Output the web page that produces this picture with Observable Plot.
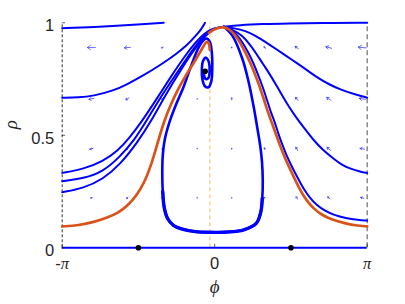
<!DOCTYPE html>
<html><head><meta charset="utf-8">
<script src="https://cdn.jsdelivr.net/npm/d3@7"></script>
<script src="https://cdn.jsdelivr.net/npm/@observablehq/plot@0.6"></script>
<style>body{margin:0;background:#fff}#chart{width:405px;height:304px}</style>
</head><body><div id="chart"></div>
<script>
// ---------- data ----------
const phiLim = [-3.1416, 3.1416];
const rhoLim = [0, 1];
const xTicks = [-3.1416, 0, 3.1416];
const xTickLabels = ["-π", "0", "π"];
const yTicks = [0, 0.5, 1];
const yTickLabels = ["0", "0.5", "1"];
const xLabel = "ϕ";
const yLabel = "ρ";
const guidePhi = [-0.1];

const fixedPhi = [-1.571, -0.196, 1.571];
const fixedRho = [0, 0.785, 0];

const quiverPhi = [-2.54, -1.80, -1.08, -0.36, 0.35, 1.03, 1.69, 2.35, 3.04];
const quiverRho = [0.89, 0.662, 0.44, 0.222];
const quiverLen = [
  [8, 6, 2, 0.5, 1, 2, 4, 6, 8],
  [5, 4, 1.5, 0.5, 2, 1, 4, 5, 6],
  [3.5, 2, 1.5, 0.5, 1, 2, 4, 4.5, 4.5],
  [2, 2, 1, 0.5, 0.5, 1, 3, 3, 3.5]
];
const quiverRot = [
  [-90, -95, -120, 0, 0, -35, -55, -75, -85],
  [-100, -120, -130, 0, 0, -20, -40, -55, -80],
  [-105, -130, -150, 0, 0, -10, -30, -50, -80],
  [-115, -140, -160, 0, 0, -10, -30, -45, -75]
];

const topLeft = [[-3.1416,0.976],[-2.6,0.98],[-2.0,0.987],[-1.5,0.994],[-1.05,1.0]];
const topRight = [[0.19,0.982],[0.5,0.99],[1.0,0.995],[1.5,0.997],[2.2,0.999],[3.1416,1.0]];
const left1 = [[-3.1416,0.667],[-2.8,0.668],[-2.5,0.675],[-2.1,0.697],[-1.8,0.727],[-1.5,0.762],[-1.1,0.815],[-0.8,0.86],[-0.57,0.9],[-0.4,0.94],[-0.28,0.97],[-0.2,1.0]];
const leftA = [[-3.1416,0.333],[-2.7,0.35],[-2.3,0.385],[-2.0,0.43],[-1.75,0.49],[-1.5,0.562],[-1.2,0.66],[-0.9,0.762],[-0.6,0.857],[-0.4,0.912],[-0.22,0.952],[-0.05,0.975],[0.19,0.982]];
const leftB = [[-3.1416,0.296],[-2.7,0.308],[-2.3,0.338],[-1.95,0.405],[-1.65,0.48],[-1.4,0.566],[-1.1,0.675],[-0.8,0.77],[-0.55,0.85],[-0.35,0.91],[-0.18,0.952],[-0.03,0.975],[0.19,0.982]];
const leftC = [[-3.1416,0.247],[-2.7,0.265],[-2.3,0.305],[-1.95,0.37],[-1.6,0.465],[-1.3,0.566],[-1.0,0.685],[-0.7,0.79],[-0.45,0.872],[-0.28,0.922],[-0.13,0.955],[0.0,0.975],[0.19,0.982]];
const right1 = [[0.19,0.982],[0.4,0.976],[0.63,0.965],[0.85,0.942],[1.05,0.914],[1.29,0.88],[1.46,0.855],[1.7,0.82],[1.9,0.79],[2.11,0.757],[2.35,0.727],[2.59,0.703],[2.85,0.684],[3.1416,0.667]];
const right2 = [[0.19,0.982],[0.38,0.968],[0.57,0.944],[0.72,0.905],[0.84,0.869],[1.0,0.815],[1.11,0.78],[1.25,0.73],[1.39,0.677],[1.52,0.63],[1.66,0.585],[1.85,0.53],[2.04,0.477],[2.25,0.43],[2.45,0.396],[2.62,0.368],[2.8,0.351],[3.0,0.338],[3.1416,0.333]];
const right3 = [[0.19,0.982],[0.32,0.975],[0.47,0.944],[0.58,0.91],[0.69,0.869],[0.8,0.82],[0.9,0.766],[0.99,0.715],[1.07,0.662],[1.16,0.6],[1.24,0.558],[1.31,0.507],[1.39,0.46],[1.48,0.41],[1.58,0.365],[1.69,0.318],[1.83,0.262],[1.96,0.222],[2.1,0.19],[2.26,0.165],[2.46,0.145],[2.7,0.132],[2.95,0.124],[3.1416,0.121]];
const loop = [[0.19,0.982],[0.36,0.944],[0.57,0.84],[0.70,0.736],[0.8,0.63],[0.88,0.53],[0.94,0.45],[0.975,0.38],[0.99,0.3],[0.98,0.22],[0.95,0.16],[0.86,0.11],[0.6,0.08],[0.25,0.07],[-0.09,0.069],[-0.4,0.072],[-0.65,0.082],[-0.85,0.1],[-0.97,0.13],[-1.04,0.18],[-1.07,0.25],[-1.08,0.33],[-1.07,0.41],[-1.03,0.48],[-0.93,0.56],[-0.8,0.635],[-0.65,0.71],[-0.5,0.8],[-0.36,0.877],[-0.26,0.915],[-0.17,0.93],[-0.1,0.915],[-0.06,0.87],[-0.05,0.8],[-0.07,0.74],[-0.13,0.713],[-0.2,0.718],[-0.25,0.745],[-0.265,0.79],[-0.24,0.83],[-0.18,0.845],[-0.12,0.825],[-0.105,0.785],[-0.13,0.755],[-0.18,0.75],[-0.22,0.77],[-0.2,0.785]];
const loopBottom = [[-1.07,0.25],[-1.04,0.18],[-0.97,0.13],[-0.85,0.1],[-0.65,0.082],[-0.4,0.072],[-0.09,0.069],[0.25,0.07],[0.6,0.08],[0.86,0.11],[0.95,0.16],[0.98,0.22]];
const orangeLeft = [[-3.1416,0.095],[-2.8,0.1],[-2.49,0.114],[-2.2,0.135],[-2.01,0.153],[-1.8,0.185],[-1.6,0.235],[-1.45,0.29],[-1.32,0.36],[-1.19,0.455],[-1.05,0.56],[-0.9,0.64],[-0.76,0.703],[-0.6,0.765],[-0.43,0.822],[-0.3,0.87],[-0.21,0.905],[-0.15,0.92],[-0.11,0.905],[-0.1,0.88]];
const orangeRight = [[-0.12,0.955],[-0.05,0.966],[0.05,0.977],[0.19,0.982],[0.3,0.972],[0.43,0.944],[0.53,0.91],[0.63,0.869],[0.74,0.82],[0.84,0.766],[0.93,0.715],[1.01,0.662],[1.1,0.6],[1.18,0.555],[1.26,0.505],[1.34,0.458],[1.43,0.408],[1.53,0.36],[1.64,0.31],[1.77,0.252],[1.9,0.208],[2.04,0.174],[2.2,0.147],[2.4,0.126],[2.66,0.11],[2.9,0.099],[3.1416,0.095]];

// ---------- styling ----------
const BLUE = "#0000ff", ORANGE = "#d95319", INK = "#262626";
const sans = "Liberation Sans, Arial, Helvetica, sans-serif";
const serif = "Liberation Serif, Times New Roman, serif";

const quiver = [];
quiverRho.forEach((r, i) => quiverPhi.forEach((p, j) =>
  quiver.push({phi: p, rho: r, len: quiverLen[i][j], rot: quiverRot[i][j]})));

const arrowShape = {
  draw(context, l) {
    context.moveTo(0, 0);
    context.lineTo(0, -l);
    const h = Math.min(l * 0.4, 3);
    context.moveTo(-h * 0.7, -l + h);
    context.lineTo(0, -l);
    context.lineTo(h * 0.7, -l + h);
  }
};

const line = (pts, stroke, sw, curve = "basis") => Plot.line(pts, {x: d => d[0], y: d => d[1], stroke, strokeWidth: sw, curve, strokeLinejoin: "round", strokeLinecap: "round"});

const chart = Plot.plot({
  width: 405, height: 304,
  marginLeft: 61.7, marginRight: 38.3, marginTop: 22.3, marginBottom: 56.7,
  x: {domain: phiLim, axis: null},
  y: {domain: rhoLim, axis: null},
  length: {type: "identity"},
  style: {background: "white", fontFamily: sans, overflow: "visible"},
  marks: [
    Plot.ruleX(guidePhi, {y1: rhoLim[0], y2: rhoLim[1], stroke: "#f1bf63", strokeWidth: 1, strokeDasharray: "4,3"}),
    Plot.ruleX([phiLim[0]], {y1: rhoLim[0], y2: rhoLim[1], stroke: "#333", strokeWidth: 1, strokeDasharray: "3,2"}),
    Plot.ruleX([phiLim[1]], {y1: rhoLim[0], y2: rhoLim[1], stroke: "#888", strokeWidth: 1.5, strokeDasharray: "5,3"}),
    Plot.vector(quiver, {x: "phi", y: "rho", length: "len", rotate: "rot", anchor: "middle", shape: arrowShape, stroke: "#3535ff", strokeOpacity: 0.8, strokeWidth: 0.9}),
    Plot.ruleY([rhoLim[0]], {x1: phiLim[0], x2: phiLim[1], stroke: BLUE, strokeWidth: 2}),
    line(topLeft, BLUE, 2),
    line(topRight, BLUE, 2),
    line(left1, BLUE, 2),
    line(leftA, BLUE, 2),
    line(leftB, BLUE, 2),
    line(leftC, BLUE, 2),
    line(right1, BLUE, 2),
    line(right2, BLUE, 2),
    line(right3, BLUE, 2),
    line(loop, BLUE, 2.6, "catmull-rom"),
    line(loopBottom, BLUE, 3.4, "catmull-rom"),
    line(orangeLeft, ORANGE, 2.7),
    line(orangeRight, ORANGE, 2.7),
    Plot.dot(fixedPhi.map((p, i) => [p, fixedRho[i]]), {x: d => d[0], y: d => d[1], r: 2.8, fill: "black", stroke: "none"}),
    Plot.ruleY(yTicks, {x1: phiLim[0], x2: phiLim[0] + 0.07, stroke: INK, strokeWidth: 0.7}),
    Plot.ruleX(xTicks, {y1: rhoLim[0], y2: rhoLim[0] + 0.015, stroke: INK, strokeWidth: 0.7}),
    Plot.text(yTicks, {y: d => d, frameAnchor: "left", dx: -8, dy: 3, text: (d, i) => yTickLabels[i], textAnchor: "end", fontSize: 16.5, fill: INK}),
    Plot.text(xTicks, {x: d => d, frameAnchor: "bottom", dy: 21, text: (d, i) => xTickLabels[i], textAnchor: "middle", fontSize: 16.5, fill: INK}),
    Plot.text([xLabel], {frameAnchor: "bottom", dy: 45, text: d => d, fontSize: 19, fontStyle: "italic", fontFamily: serif, fill: INK}),
    Plot.text([yLabel], {frameAnchor: "left", dx: -51, dy: -6, rotate: -90, text: d => d, fontSize: 19, fontStyle: "italic", fontFamily: serif, fill: INK})
  ]
});

// pi glyphs in tick labels rendered in italic serif, like a TeX axis label
d3.select(chart).selectAll("text").each(function () {
  const t = this.textContent;
  if (t.includes("π") && !this.querySelector("tspan")) {
    const sel = d3.select(this);
    sel.text("");
    const parts = t.split("π");
    if (parts[0]) sel.append("tspan").text(parts[0]);
    sel.append("tspan").attr("font-family", serif).attr("font-style", "italic").text("π");
  }
});

document.getElementById("chart").appendChild(chart);
</script></body></html>
